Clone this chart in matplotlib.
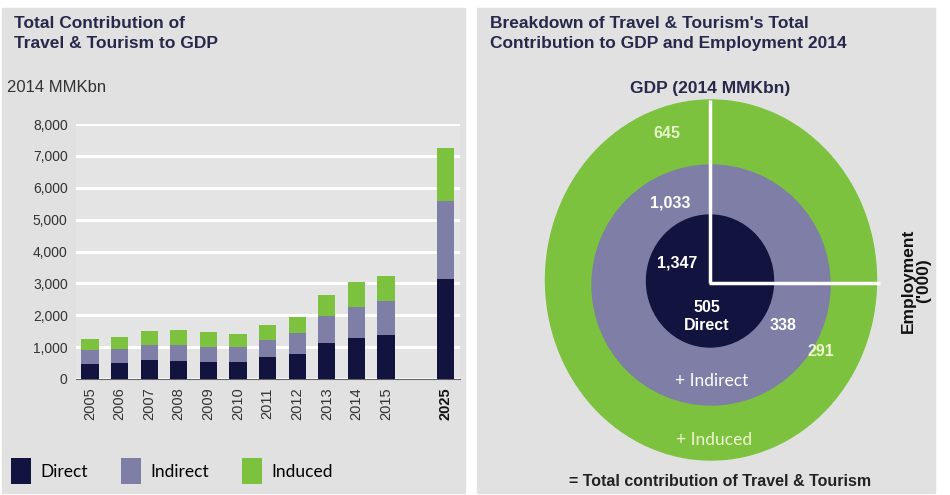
import numpy as np
import matplotlib
matplotlib.use("Agg")
import matplotlib.pyplot as plt
from matplotlib.patches import Ellipse, Rectangle

plt.rcParams['font.family'] = ['Liberation Sans', 'DejaVu Sans']

# data
years = ['2005', '2006', '2007', '2008', '2009', '2010', '2011', '2012', '2013', '2014', '2015', '2025']
direct = [470, 500, 585, 575, 545, 530, 680, 785, 1130, 1285, 1380, 3140]
indirect = [450, 440, 470, 480, 455, 460, 550, 655, 855, 970, 1075, 2445]
induced = [343, 375, 460, 470, 460, 420, 460, 500, 665, 795, 780, 1650]
yticks = [0, 1000, 2000, 3000, 4000, 5000, 6000, 7000, 8000]

gdp_vals = ['1,347', '1,033', '645']        # direct, indirect, induced
emp_vals = ['505', '338', '291']

c_direct = '#13133f'
c_indirect = '#7e7ea6'
c_induced = '#7cc23e'
c_bg = '#e1e1e1'
c_title = '#27284a'

W, H = 950, 495
fig = plt.figure(figsize=(9.5, 4.95), dpi=100)

# background axes in pixel coords for panels and the ring diagram
bg = fig.add_axes([0, 0, 1, 1])
bg.set_xlim(0, W)
bg.set_ylim(H, 0)
bg.axis('off')
bg.add_patch(Rectangle((2, 8), 463, 485, color=c_bg, zorder=0))
bg.add_patch(Rectangle((477, 8), 458, 485, color=c_bg, zorder=0))

# ---- left: stacked bars ----
ax = fig.add_axes([76 / W, 1 - 379 / H, (460 - 76) / W, (379 - 124) / H])
ax.set_facecolor('#e4e4e4')
x = np.array(list(range(11)) + [12])
bw = 0.58
b1 = ax.bar(x, direct, bw, color=c_direct, zorder=3, label='Direct')
bot = np.array(direct)
b2 = ax.bar(x, indirect, bw, bottom=bot, color=c_indirect, zorder=3, label='Indirect')
bot = bot + np.array(indirect)
b3 = ax.bar(x, induced, bw, bottom=bot, color=c_induced, zorder=3, label='Induced')
ax.set_ylim(0, 8000)
ax.set_xlim(-0.47, 12.5)
ax.set_yticks(yticks)
ax.set_yticklabels([f'{v:,}' for v in yticks], fontsize=10, color='#333333')
ax.yaxis.grid(True, color='white', lw=2.2, zorder=1)
ax.set_xticks(x)
ax.set_xticklabels(years, rotation=90, fontsize=10.5, color='#333333')
ax.get_xticklabels()[-1].set_fontweight('bold')
ax.get_xticklabels()[-1].set_color('#111111')
ax.tick_params(length=0, pad=6)
for s in ['top', 'right', 'left']:
    ax.spines[s].set_visible(False)
ax.spines['bottom'].set_color('#666666')

fig.text(14 / W, 1 - 16 / H, 'Total Contribution of\nTravel & Tourism to GDP', fontsize=12.5,
         fontweight='bold', color=c_title, va='top', linespacing=1.4)
fig.text(7 / W, 1 - 88 / H, '2014 MMKbn', fontsize=12, color='#333333', va='center')

fig.legend(handles=[b1, b2, b3], loc='center left', bbox_to_anchor=(-5 / W, 1 - 471 / H),
           ncol=3, frameon=False, handlelength=1.15, handleheight=2.0,
           columnspacing=1.9, handletextpad=0.55,
           prop={'family': ['Lato', 'DejaVu Sans'], 'size': 12.5})

# ---- right: ring diagram ----
bg.add_patch(Ellipse((711, 280), 331, 360, color=c_induced, zorder=2))
bg.add_patch(Ellipse((711, 285), 238, 240, color=c_indirect, zorder=3))
bg.add_patch(Ellipse((710, 281), 127, 132, color=c_direct, zorder=4))
bg.plot([710, 710], [100, 283], color='white', lw=2.5, zorder=5, solid_capstyle='butt')
bg.plot([709, 880], [283, 283], color='white', lw=2.5, zorder=5, solid_capstyle='butt')

fig.text(490 / W, 1 - 16 / H, "Breakdown of Travel & Tourism's Total\nContribution to GDP and Employment 2014",
         fontsize=12.5, fontweight='bold', color=c_title, va='top', linespacing=1.4)
bg.text(710, 88, 'GDP (2014 MMKbn)', fontsize=12.5, fontweight='bold', color=c_title,
        ha='center', va='center')

lab = dict(fontsize=11.5, fontweight='bold', ha='center', va='center', zorder=6)
bg.text(677, 263, gdp_vals[0], color='white', **lab)
bg.text(670, 203, gdp_vals[1], color='white', **lab)
bg.text(667, 133, gdp_vals[2], color='#e6f2c8', **lab)
bg.text(707, 307, emp_vals[0], color='white', **lab)
bg.text(707, 325, 'Direct', color='white', **lab)
bg.text(783, 326, emp_vals[1], color='white', **lab)
bg.text(821, 352, emp_vals[2], color='#eef5cf', **lab)
bg.text(712, 381, '+ Indirect', color='white', fontsize=12.5, ha='center', va='center', zorder=6,
        family=['Lato', 'DejaVu Sans'])
bg.text(714, 440, '+ Induced', color='#eef5cf', fontsize=12.5, ha='center', va='center', zorder=6,
        family=['Lato', 'DejaVu Sans'])
bg.text(720, 482, '= Total contribution of Travel & Tourism', fontsize=11.5, fontweight='bold',
        color='#222222', ha='center', va='center')
bg.text(916, 281, "Employment\n('000)", fontsize=12.5, fontweight='bold', color='#111111',
        rotation=90, ha='center', va='center', linespacing=1.0)

fig.savefig('out.png', dpi=100)
